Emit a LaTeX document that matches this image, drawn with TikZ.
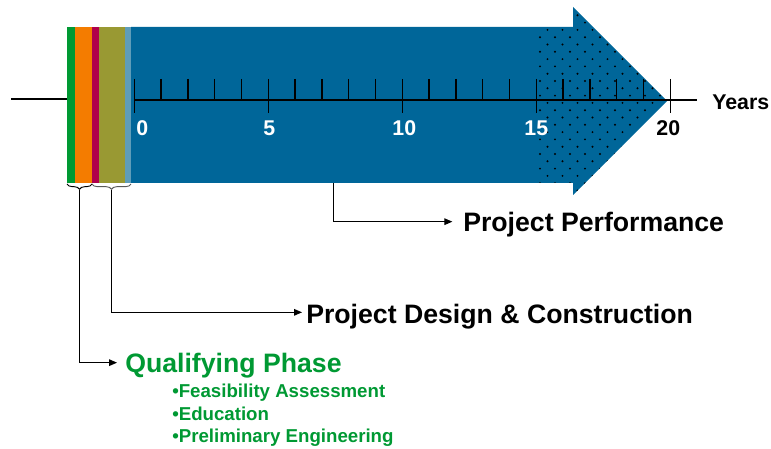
\documentclass[tikz,border=0pt]{standalone}
\usepackage{fontspec}
\setmainfont{Liberation Sans}
\usetikzlibrary{arrows.meta, positioning, decorations.pathreplacing}

\definecolor{qualgreen}{HTML}{009933}
\definecolor{stripeorange}{HTML}{F47C00}
\definecolor{stripered}{HTML}{B0004A}
\definecolor{stripeolive}{HTML}{999933}
\definecolor{stripeblue}{HTML}{5F9DB9}
\definecolor{arrowblue}{HTML}{006699}

\begin{document}
\begin{tikzpicture}[x=0.75pt, y=-0.75pt,
  conn/.style={-{Triangle[length=6pt,width=5pt]}, line width=0.7pt},
  bracket/.style={decorate, decoration={brace, mirror, amplitude=4pt}, line width=0.7pt},
  bigtext/.style={font=\bfseries\fontsize{20}{24}\selectfont, anchor=base west, inner sep=0pt},
  subtext/.style={font=\bfseries\fontsize{14}{16}\selectfont, anchor=base west, inner sep=0pt, text=qualgreen},
  numlabel/.style={font=\bfseries\fontsize{16}{18}\selectfont, inner sep=0pt}]
\useasboundingbox (0,0) rectangle (771,449);

% Phase stripes
\fill[qualgreen] (67,27) rectangle (75,183);
\fill[stripeorange] (75,27) rectangle (92,183);
\fill[stripered] (92,27) rectangle (99,183);
\fill[stripeolive] (99,27) rectangle (125,183);
\fill[stripeblue] (125,27) rectangle (131,183);

% Arrow
\fill[arrowblue] (131,27) -- (573,27) -- (573,7) -- (667,101) -- (573,195)
  -- (573,183) -- (131,183) -- cycle;

% Dotted tail of the timeline
\begin{scope}
\clip (538,27) -- (573,27) -- (573,7) -- (667,101) -- (573,195) -- (573,183) -- (538,183) -- cycle;
\foreach \row in {0,...,26} {
  \pgfmathsetmacro\yy{8+\row*7.3}
  \pgfmathsetmacro\off{mod(\row,2)*7.5}
  \foreach \col in {0,...,9}
    \fill (540+\off+\col*15,\yy) circle[radius=0.8pt];
}
\end{scope}

% Axis
\draw[line width=0.8pt] (11,99) -- (67,99);
\draw[line width=1.2pt] (134.3,100) -- (697,100);
\foreach \t in {0,...,20} {
  \draw[line width=1pt] (134.3+\t*26.8,79) -- (134.3+\t*26.8,100);
}
\foreach \t in {0,5,...,20} {
  \draw[line width=1pt] (134.3+\t*26.8,100) -- (134.3+\t*26.8,113);
}

% Labels
\foreach \t/\dx/\c in {0/8/white, 5/1/white, 10/2/white, 15/0/white, 20/-2/black}
  \node[numlabel, text=\c] (n\t) at (134.3+\t*26.8+\dx,128) {\t};
\node[numlabel, anchor=west] (years) at (712,102) {Years};

% Braces
\draw[bracket] (67,184) -- (92,184);
\draw[bracket, black!65] (92,184) -- (131,184);
\coordinate (qualtip) at (79.5,190);
\coordinate (designtip) at (111.5,190);
\coordinate (perftip) at (333,183);

% Phase texts
\node[bigtext] (perf) at (463,231) {Project Performance};
\node[bigtext] (design) at (306,323) {Project Design \& Construction};
\node[bigtext, text=qualgreen] (qual) at (125,372) {Qualifying Phase};
\node[subtext] (feas) at (172,397) {•Feasibility Assessment};
\node[subtext] (edu) at (172,420) {•Education};
\node[subtext] (prelim) at (172,442) {•Preliminary Engineering};

% Connectors
\draw[conn] (perftip) |- ([xshift=-8pt,yshift=7pt]perf.base west);
\draw[conn] (designtip) |- ([xshift=-3pt,yshift=8pt]design.base west);
\draw[conn] (qualtip) |- ([xshift=-6pt,yshift=7pt]qual.base west);
\end{tikzpicture}
\end{document}
